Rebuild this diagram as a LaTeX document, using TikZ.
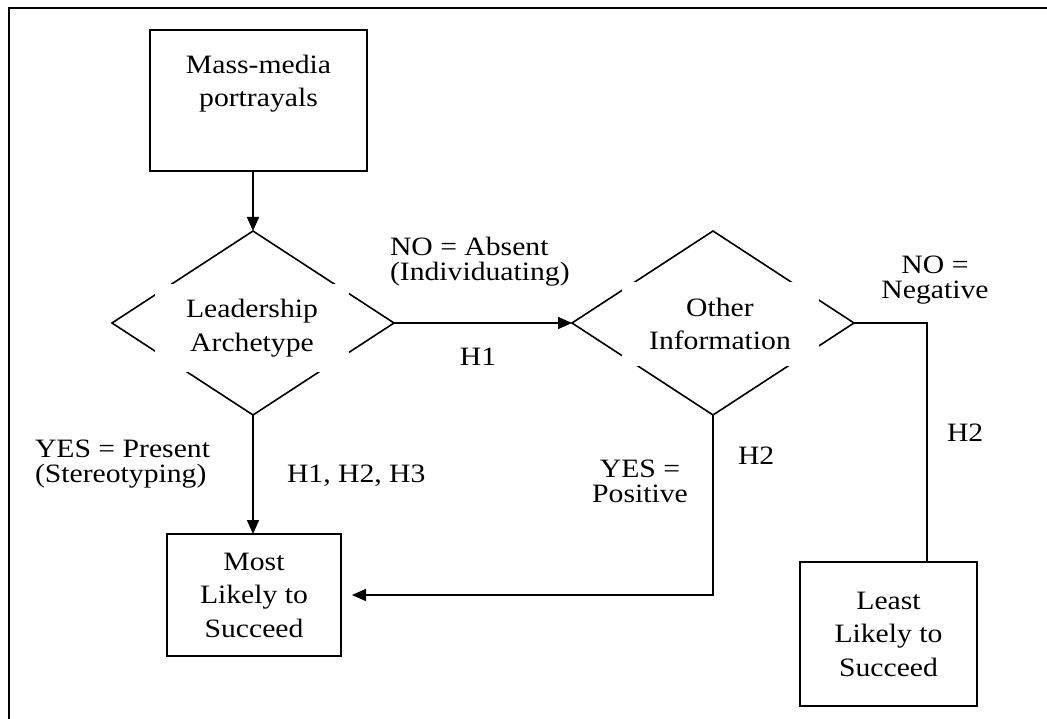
\documentclass[tikz,border=0pt]{standalone}
\usepackage{fontspec}
\setmainfont{Liberation Serif}[FakeStretch=1.12]
\usetikzlibrary{shapes.geometric,arrows.meta}

\begin{document}
\begin{tikzpicture}[x=1pt,y=-1pt,
  line width=1.6pt,
  every node/.style={inner sep=0pt, outer sep=0pt},
  txt/.style={font=\fontsize{26.5}{33.5}\selectfont, align=center},
  lbl/.style={font=\fontsize{26.5}{25}\selectfont, align=center},
  box/.style={draw, txt},
  decision/.style={draw, shape=diamond, minimum width=282pt, minimum height=184pt},
  mask/.style={fill=white, txt},
  arr/.style={-{Triangle[length=14pt,width=12pt]}}
]
\useasboundingbox (0,0) rectangle (1047,719);

% outer frame (only top and left edges fall inside the page)
\draw (9,719) -- (9,8) -- (1047,8);

% source box with its text set at the top (base = last line)
\node[box, minimum width=217pt, minimum height=141pt] (mm) at (258.5,100.5) {};
\node[txt, anchor=base] (mmtext) at (258.5,107) {Mass-media\\portrayals};

% decision diamonds; a white text box covers their middles
\node[decision] (d1) at (253,323) {};
\node[mask, minimum width=194pt, minimum height=88pt] (d1t) at (252,328) {Leadership\\Archetype};

\node[decision] (d2) at (713,323) {};
\node[mask, minimum width=197pt, minimum height=83pt] (d2t) at (720,324) {Other\\Information};

% outcome boxes
\node[box, minimum width=174pt, minimum height=122pt] (most) at (254,595) {Most\\Likely to\\Succeed};
\node[box, minimum width=177pt, minimum height=144pt] (least) at (888.5,634) {Least\\Likely to\\Succeed};

% connectors
\draw[arr] (d1.north |- mm.south) -- (d1.north);
\draw[arr] (d1.east) -- (d2.west);
\draw[arr] (d1.south) -- (d1.south |- most.north);
\draw[arr, shorten >=11pt] (d2.south) |- (most.east);
\draw (d2.east) -- ++(73,0) coordinate (turn) -- (turn |- least.north);

% branch labels (base anchor sits on the last line)
\node[lbl, align=left, anchor=base west] (noabs) at (390,281) {NO = Absent\\(Individuating)};
\node[lbl, anchor=base] (h1) at (478,365) {H1};
\node[lbl, align=left, anchor=base west] (yespres) at (35,482) {YES = Present\\(Stereotyping)};
\node[lbl, anchor=base west] (h123) at (287,482) {H1, H2, H3};
\node[lbl, anchor=base] (yespos) at (640,502) {YES =\\Positive};
\node[lbl, anchor=base west] (h2a) at (738,464) {H2};
\node[lbl, anchor=base] (noneg) at (935,299) {NO =\\Negative};
\node[lbl, anchor=base west] (h2b) at (947,441) {H2};
\end{tikzpicture}
\end{document}
